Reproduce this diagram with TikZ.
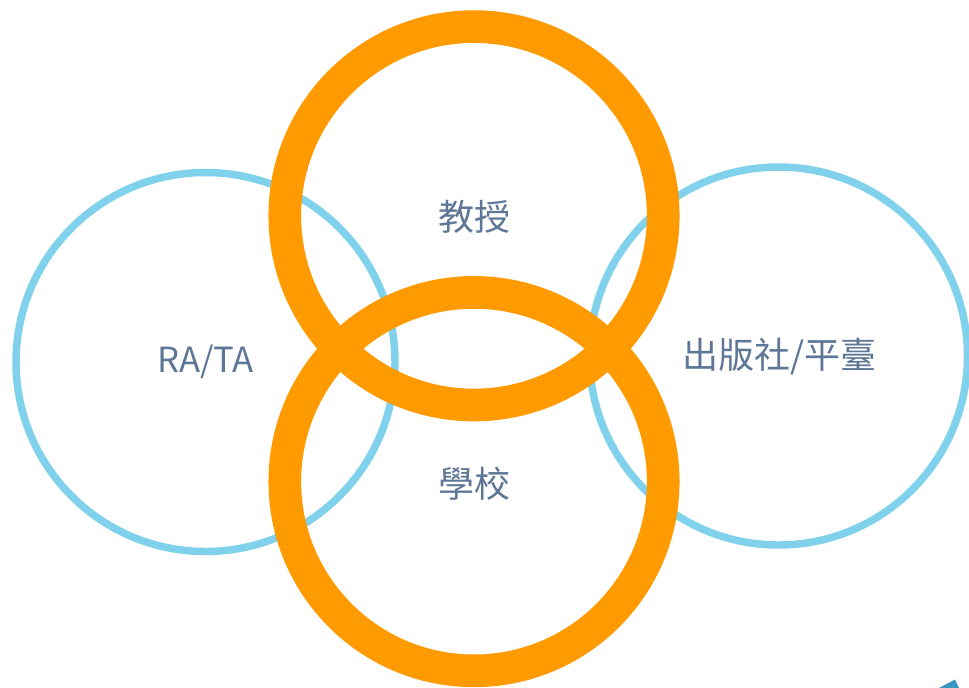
\documentclass[tikz,border=0pt]{standalone}
\usepackage{fontspec}
\setmainfont{Noto Sans CJK TC}
\newfontfamily\cjk{Noto Sans CJK TC}
\definecolor{ringblue}{HTML}{7FD1EC}
\definecolor{ringorange}{HTML}{FF9A00}
\definecolor{labelgray}{HTML}{5E7796}
\definecolor{cornerteal}{HTML}{3A96C4}
\tikzset{
  blue ring/.style={draw=ringblue, line width=5.6pt},
  orange ring/.style={draw=ringorange, line width=24.5pt},
  lbl/.style={text=labelgray, font=\cjk\fontsize{27pt}{30pt}\selectfont, inner sep=0pt, anchor=center},
}
\begin{document}
\begin{tikzpicture}[x=0.75pt, y=-0.75pt]
\useasboundingbox (0,0) rectangle (969,687);
\clip (0,0) rectangle (969,687);
\fill[white] (0,0) rectangle (969,687);
\coordinate (cl) at (205.5,362);
\coordinate (cr) at (778.5,356);
\coordinate (ct) at (474,215.8);
\coordinate (cb) at (474,481.6);
\draw[blue ring] (cl) circle[radius=189.5*0.75pt];
\draw[blue ring] (cr) circle[radius=189*0.75pt];
\draw[orange ring] (ct) circle[radius=189.2*0.75pt];
\draw[orange ring] (cb) circle[radius=189.2*0.75pt];
\node[lbl, font=\cjk\fontsize{26pt}{30pt}\selectfont] (ra) at (205.5,361.5) {RA/TA};
\node[lbl] (prof) at (474,217) {教授};
\node[lbl] (school) at (474,484) {學校};
\node[lbl] (pub) at (779.5,357) {出版社/平臺};
\fill[cornerteal] (939,688) -- (955,679.5) -- (959,688) -- cycle;
\end{tikzpicture}
\end{document}
